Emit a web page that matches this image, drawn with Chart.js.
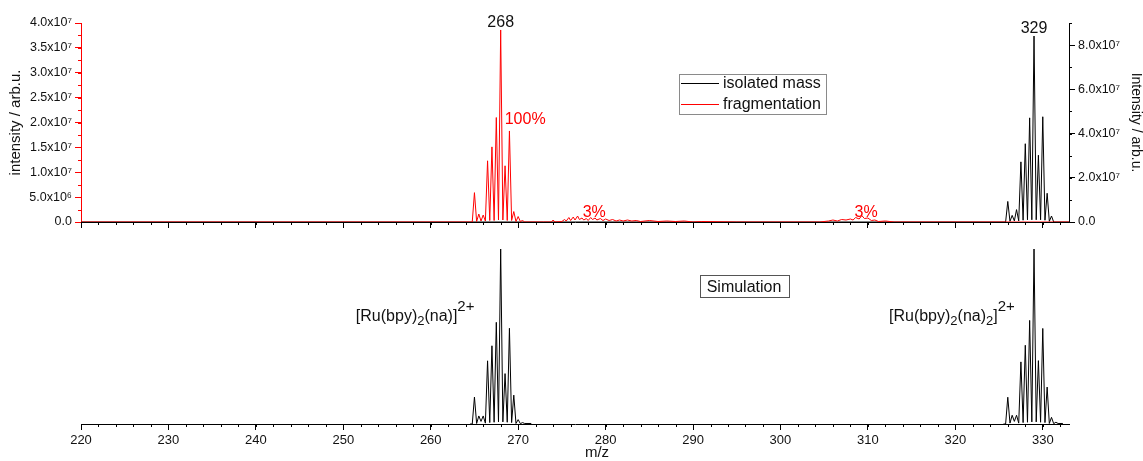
<!DOCTYPE html>
<html><head><meta charset="utf-8">
<script src="https://cdn.jsdelivr.net/npm/chart.js@4.4.0/dist/chart.umd.min.js"></script>
<style>
html,body{margin:0;padding:0;background:#fff;overflow:hidden;}
#wrap{position:relative;width:1143px;height:461px;background:#fff;}
canvas{position:absolute;left:0;}
#cTop{top:0;}
#cBot{top:230px;}
</style></head><body>
<div id="wrap"><canvas id="cTop" width="1143" height="236"></canvas><canvas id="cBot" width="1143" height="231"></canvas></div>
<script>
// ---------------- DATA ----------------
const seriesNames = ['isolated mass', 'fragmentation'];

// fragmentation spectrum (red, left axis)
const fragMz = [220, 264.75, 265.0, 265.25, 265.5, 265.75, 266.0, 266.25, 266.5, 266.75, 267.0, 267.25, 267.5, 267.75,
  268.0, 268.25, 268.5, 268.75, 269.0, 269.25, 269.5, 269.75, 270.0, 270.25, 270.5, 270.75,
  273.8, 274.0, 274.2, 275.0, 275.3, 275.5, 275.8, 276.0, 276.3, 276.5, 276.8, 277.0, 277.3, 277.5, 277.8,
  278.0, 278.3, 278.5, 278.8, 279.0, 279.4, 279.7, 280.0, 280.4, 280.8, 281.2, 281.6, 282.0, 282.5, 283.0,
  283.5, 284.0, 285.0, 286.0, 287.0, 288.0, 289.0, 290.0, 291.0, 295.0, 304.5, 305.5, 306.0, 306.5, 307.0,
  307.5, 308.0, 308.3, 308.6, 309.0, 309.3, 309.6, 310.0, 310.4, 310.8, 311.2, 312.0, 313.0, 333.0];
const fragInt = [0, 0, 5.9e6, 0.1e6, 1.6e6, 0.2e6, 1.4e6, 0.2e6, 12.3e6, 0.3e6, 15.1e6, 0.3e6, 21.0e6, 0.4e6,
  38.6e6, 0.4e6, 11.3e6, 0.3e6, 18.3e6, 0.3e6, 2.1e6, 0.1e6, 1.1e6, 0.1e6, 0.3e6, 0,
  0, 0.4e6, 0, 0.1e6, 0.5e6, 0.2e6, 0.9e6, 0.3e6, 1.0e6, 0.4e6, 1.2e6, 0.5e6, 0.8e6, 0.4e6, 0.7e6,
  0.3e6, 0.9e6, 0.5e6, 0.8e6, 0.4e6, 0.7e6, 0.3e6, 0.6e6, 0.3e6, 0.5e6, 0.2e6, 0.4e6, 0.2e6, 0.4e6, 0.2e6,
  0.3e6, 0.1e6, 0.3e6, 0.1e6, 0.2e6, 0.1e6, 0.2e6, 0, 0.1e6, 0, 0, 0.2e6, 0.4e6, 0.2e6, 0.5e6,
  0.4e6, 0.6e6, 0.4e6, 0.9e6, 0.6e6, 1.3e6, 0.7e6, 0.8e6, 0.3e6, 0.4e6, 0.1e6, 0.2e6, 0, 0];

// isolated mass spectrum (black, right axis)
const isoMz = [220, 325.75, 326.0, 326.25, 326.5, 326.75, 327.0, 327.25, 327.5, 327.75, 328.0, 328.25, 328.5, 328.75,
  329.0, 329.25, 329.5, 329.75, 330.0, 330.25, 330.5, 330.75, 331.0, 331.25, 333.0];
const isoInt = [0, 0, 9.3e6, 0.3e6, 3.0e6, 0.5e6, 5.6e6, 0.5e6, 27.2e6, 0.8e6, 35.4e6, 1.0e6, 47.1e6, 1.0e6,
  84.1e6, 1.0e6, 30.2e6, 1.0e6, 47.6e6, 0.8e6, 13.0e6, 0.3e6, 2.7e6, 0, 0];

// simulated isotope patterns (bottom panel, relative units)
const simMz = [264.5, 264.75, 265.0, 265.25, 265.5, 265.75, 266.0, 266.25, 266.5, 266.75, 267.0, 267.25, 267.5, 267.75,
  268.0, 268.25, 268.5, 268.75, 269.0, 269.25, 269.5, 269.75, 270.0, 270.25, 270.5, 270.75, 271.5, 300,
  325.5, 325.75, 326.0, 326.25, 326.5, 326.75, 327.0, 327.25, 327.5, 327.75, 328.0, 328.25, 328.5, 328.75,
  329.0, 329.25, 329.5, 329.75, 330.0, 330.25, 330.5, 330.75, 331.0, 331.25, 331.5, 331.75, 332.3];
const simInt = [0, 0, 15.4, 0.3, 4.6, 1.5, 4.6, 0.5, 36.1, 0.8, 44.7, 1.0, 58.1, 1.2,
  100, 1.2, 28.8, 1.0, 54.7, 0.8, 16.5, 0.3, 2.5, 0.2, 0.8, 0.3, 0.3, null,
  0, 0, 15.3, 0.5, 5.0, 1.5, 5.0, 0.5, 35.5, 0.8, 45.0, 1.0, 59.2, 1.2,
  100, 1.2, 36.2, 1.0, 54.6, 0.8, 21.1, 0.3, 3.8, 0.2, 1.0, 0.3, 0.3];

const xTickValues = [220, 230, 240, 250, 260, 270, 280, 290, 300, 310, 320, 330];
const xTickLabels = ['220','230','240','250','260','270','280','290','300','310','320','330'];
const leftTickValues = [0, 5e6, 1e7, 1.5e7, 2e7, 2.5e7, 3e7, 3.5e7, 4e7];
const leftTickLabels = ['0.0','5.0x10⁶','1.0x10⁷','1.5x10⁷','2.0x10⁷','2.5x10⁷','3.0x10⁷','3.5x10⁷','4.0x10⁷'];
const rightTickValues = [0, 2e7, 4e7, 6e7, 8e7];
const rightTickLabels = ['0.0','2.0x10⁷','4.0x10⁷','6.0x10⁷','8.0x10⁷'];
const percentLabels = ['100%', '3%', '3%'];
const percentMz = [268, 278.7, 309.8];
const ionLabels = [['[Ru(bpy)','2','(na)]','2+'], ['[Ru(bpy)','2','(na)','2',']','2+']];
const ionLabelMz = [265.0, 326.8];

// ---------------- STYLE / HELPERS ----------------
const FONT = '"Liberation Sans", Arial, Helvetica, sans-serif';
const RED = '#ff0000';
const INK = '#111111';

const fixTicks = (vals) => (s) => { s.ticks = vals.map(v => ({value: v})); };
const labelFor = (vals, labels) => (v) => { const i = vals.findIndex(t => Math.abs(t - v) < 1e-6 * Math.max(1, Math.abs(t))); return i >= 0 ? labels[i] : ''; };

const minorTicks = {
  id: 'minorTicks',
  afterDraw(chart, args, opts) {
    const ctx = chart.ctx;
    ctx.save();
    ctx.lineWidth = 1;
    (opts.list || []).forEach(m => {
      const s = chart.scales[m.id];
      if (!s) return;
      ctx.strokeStyle = m.color;
      ctx.beginPath();
      for (let k = 0; ; k++) {
        const v = s.min + k * m.step;
        if (v > s.max + 1e-9) break;
        const p = Math.round(s.getPixelForValue(v)) + 0.5;
        if (s.isHorizontal()) {
          const y = Math.round(s.top);
          ctx.moveTo(p, y); ctx.lineTo(p, y + m.len);
        } else if (s.position === 'left') {
          const x = Math.round(s.right);
          ctx.moveTo(x, p); ctx.lineTo(x - m.len, p);
        } else {
          const x = Math.round(s.left);
          ctx.moveTo(x, p); ctx.lineTo(x + m.len, p);
        }
      }
      ctx.stroke();
    });
    ctx.restore();
  }
};

const topNotes = {
  id: 'topNotes',
  afterDatasetsDraw(chart) {
    const {ctx, scales: {x, yL, yR}} = chart;
    const iF = fragInt.indexOf(Math.max(...fragInt));
    const iI = isoInt.indexOf(Math.max(...isoInt));
    const pxF = x.getPixelForValue(fragMz[iF]), pyF = yL.getPixelForValue(fragInt[iF]);
    const pxI = x.getPixelForValue(isoMz[iI]), pyI = yR.getPixelForValue(isoInt[iI]);
    ctx.save();
    ctx.font = '16px ' + FONT;
    ctx.textBaseline = 'alphabetic';
    ctx.fillStyle = INK;
    ctx.textAlign = 'center';
    ctx.fillText(String(Math.round(fragMz[iF])), pxF, pyF - 3);
    ctx.fillText(String(Math.round(isoMz[iI])), pxI, pyI - 3);
    ctx.fillStyle = RED;
    ctx.textAlign = 'left';
    ctx.fillText(percentLabels[0], x.getPixelForValue(percentMz[0]) + 4, yL.getPixelForValue(1.97e7));
    ctx.textAlign = 'center';
    ctx.fillText(percentLabels[1], x.getPixelForValue(percentMz[1]), yL.getPixelForValue(0) - 5.5);
    ctx.fillText(percentLabels[2], x.getPixelForValue(percentMz[2]), yL.getPixelForValue(0) - 5.5);

    // legend box
    const lx = 679.5, ly = 74.5, lw = 147, lh = 40;
    ctx.strokeStyle = '#8a8a8a'; ctx.lineWidth = 1;
    ctx.strokeRect(lx, ly, lw, lh);
    const rows = [{name: seriesNames[0], color: '#000', y: 83.5}, {name: seriesNames[1], color: RED, y: 104.5}];
    ctx.font = '16px ' + FONT;
    ctx.textAlign = 'left'; ctx.textBaseline = 'middle';
    rows.forEach(r => {
      ctx.strokeStyle = r.color; ctx.beginPath(); ctx.moveTo(681, r.y); ctx.lineTo(719, r.y); ctx.stroke();
      ctx.fillStyle = INK; ctx.fillText(r.name, 723, r.y);
    });
    ctx.restore();
  }
};

function drawRich(ctx, parts, x, y) {
  let cx = x;
  parts.forEach(p => {
    ctx.font = p.size + 'px ' + FONT;
    ctx.fillText(p.t, cx, y + p.dy);
    cx += ctx.measureText(p.t).width;
  });
}

const botNotes = {
  id: 'botNotes',
  afterDatasetsDraw(chart) {
    const {ctx, scales: {x}} = chart;
    ctx.save();
    ctx.fillStyle = INK;
    ctx.textBaseline = 'alphabetic';
    ctx.textAlign = 'left';
    // Simulation box
    ctx.font = '16px ' + FONT;
    const t = 'Simulation';
    const w = ctx.measureText(t).width;
    const cxs = 744, cys = 57;
    ctx.strokeStyle = '#555'; ctx.lineWidth = 1;
    ctx.strokeRect(Math.round(cxs - w / 2 - 7) + 0.5, cys - 11.5, Math.round(w + 14), 22);
    ctx.textAlign = 'center'; ctx.textBaseline = 'middle';
    ctx.fillText(t, cxs, cys + 1);
    ctx.textAlign = 'left'; ctx.textBaseline = 'alphabetic';
    // ion labels
    const styleFor = (i, arr) => {
      const s = arr[i];
      if (s === '2+') return {size: 15, dy: -10};
      if (s === '2') return {size: 13, dy: 4};
      return {size: 16, dy: 0};
    };
    ionLabels.forEach((arr, k) => {
      const parts = arr.map((s, i) => Object.assign({t: s}, styleFor(i, arr)));
      let tw = 0;
      parts.forEach(p => { ctx.font = p.size + 'px ' + FONT; tw += ctx.measureText(p.t).width; });
      const xr = x.getPixelForValue(ionLabelMz[k]);
      drawRich(ctx, parts, xr - tw, 91);
    });
    // axis title
    ctx.font = '15px ' + FONT;
    ctx.textAlign = 'center';
    ctx.fillText('m/z', 597, 227);
    ctx.restore();
  }
};

// ---------------- TOP CHART ----------------
new Chart(document.getElementById('cTop'), {
  type: 'line',
  data: {
    datasets: [
      {label: seriesNames[1], data: fragMz.map((m, i) => ({x: m, y: fragInt[i]})), yAxisID: 'yL',
       borderColor: RED, borderWidth: 1, pointRadius: 0, tension: 0, fill: false},
      {label: seriesNames[0], data: isoMz.map((m, i) => ({x: m, y: isoInt[i]})), yAxisID: 'yR',
       borderColor: '#000', borderWidth: 1, pointRadius: 0, tension: 0, fill: false}
    ]
  },
  options: {
    responsive: false, animation: false, devicePixelRatio: 1,
    layout: {padding: {top: 23, left: 0, right: 0, bottom: 0}},
    plugins: {
      legend: {display: false}, tooltip: {enabled: false},
      minorTicks: {list: [
        {id: 'x', step: 2, len: 3, color: '#000'},
        {id: 'yL', step: 2.5e6, len: 3, color: RED},
        {id: 'yR', step: 1e7, len: 3, color: '#000'}
      ]}
    },
    scales: {
      x: {
        type: 'linear', position: 'bottom', min: 220, max: 333, bounds: 'data',
        afterBuildTicks: fixTicks(xTickValues),
        afterFit(s) { s.height = 14; },
        ticks: {autoSkip: false, maxRotation: 0, callback: () => '', font: {size: 1}},
        grid: {drawOnChartArea: false, drawTicks: true, tickLength: 6, color: '#000'},
        border: {display: true, color: '#000', width: 1}
      },
      yL: {
        type: 'linear', position: 'left', min: 0, max: 4e7, bounds: 'data',
        afterBuildTicks: fixTicks(leftTickValues),
        afterFit(s) { s.width = 81; },
        ticks: {autoSkip: false, padding: 3, color: INK, font: {family: FONT, size: 12.5},
                callback: labelFor(leftTickValues, leftTickLabels)},
        grid: {drawOnChartArea: false, tickLength: 6, color: RED},
        border: {display: true, color: RED, width: 1},
        title: {display: true, text: 'intensity / arb.u.', color: INK, font: {family: FONT, size: 15}, padding: {top: 7, bottom: 0}}
      },
      yR: {
        type: 'linear', position: 'right', min: 0, max: 9e7, bounds: 'data',
        afterBuildTicks: fixTicks(rightTickValues),
        afterFit(s) { s.width = 74; },
        ticks: {autoSkip: false, padding: 3, color: INK, font: {family: FONT, size: 12.5},
                callback: labelFor(rightTickValues, rightTickLabels)},
        grid: {drawOnChartArea: false, tickLength: 6, color: '#000'},
        border: {display: true, color: '#000', width: 1},
        title: {display: true, text: 'Intensity / arb.u.', color: INK, font: {family: FONT, size: 14, lineHeight: 1}, padding: {top: 0, bottom: 0}}
      }
    }
  },
  plugins: [minorTicks, topNotes]
});

// ---------------- BOTTOM CHART ----------------
new Chart(document.getElementById('cBot'), {
  type: 'line',
  data: {
    datasets: [
      {label: 'Simulation', data: simMz.map((m, i) => ({x: m, y: simInt[i]})),
       borderColor: '#000', borderWidth: 1, pointRadius: 0, tension: 0, fill: false, spanGaps: false}
    ]
  },
  options: {
    responsive: false, animation: false, devicePixelRatio: 1,
    layout: {padding: {top: 5, left: 81, right: 74, bottom: 0}},
    plugins: {
      legend: {display: false}, tooltip: {enabled: false},
      minorTicks: {list: [{id: 'x', step: 2, len: 3, color: '#000'}]}
    },
    scales: {
      x: {
        type: 'linear', position: 'bottom', min: 220, max: 333, bounds: 'data',
        afterBuildTicks: fixTicks(xTickValues),
        afterFit(s) { s.height = 37; },
        ticks: {autoSkip: false, maxRotation: 0, padding: 3, color: INK,
                font: {family: FONT, size: 13}, callback: labelFor(xTickValues, xTickLabels)},
        grid: {drawOnChartArea: false, drawTicks: true, tickLength: 6, color: '#000'},
        border: {display: true, color: '#000', width: 1}
      },
      y: {type: 'linear', display: false, min: 0, max: 108}
    }
  },
  plugins: [minorTicks, botNotes]
});
</script></body></html>
